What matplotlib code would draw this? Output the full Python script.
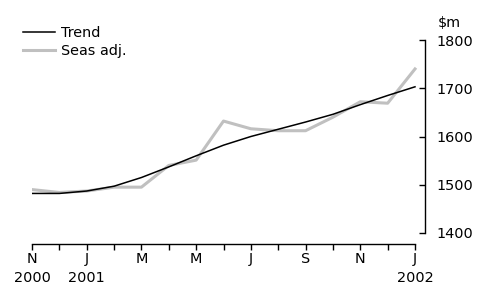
import matplotlib
matplotlib.use("Agg")
import matplotlib.pyplot as plt

plt.rcParams['font.family'] = ['DejaVu Sans']

months = ["N", "D", "J", "F", "M", "A", "M", "J", "J", "A", "S", "O", "N", "D", "J"]
years = {0: "2000", 2: "2001", 14: "2002"}
trend = [1482, 1482, 1487, 1497, 1515, 1537, 1560, 1582, 1600, 1615,
         1630, 1646, 1666, 1685, 1703]
seas_adj = [1490, 1484, 1487, 1495, 1495, 1540, 1551, 1632, 1616, 1612,
            1612, 1640, 1672, 1669, 1740]

W, H = 479, 288
FS = 10.4
fig = plt.figure(figsize=(W / 100, H / 100), dpi=100)
ax = fig.add_axes([32 / W, (H - 233) / H, (425 - 32) / W, (233 - 40) / H])

x = list(range(len(months)))
ax.plot(x, trend, color='black', lw=1.1, label='Trend', zorder=3)
ax.plot(x, seas_adj, color='#c0c0c0', lw=2.2, label='Seas adj.', zorder=2)

ax.set_xlim(0, 14 + 10 / 27.36)
ax.set_ylim(1400, 1800)

for s in ['left', 'top']:
    ax.spines[s].set_visible(False)
ax.spines['right'].set_bounds(1400, 1800)
ax.spines['bottom'].set_bounds(0, 14)
ax.spines['bottom'].set_position(('outward', 8))
ax.spines['right'].set_linewidth(1.0)
ax.spines['bottom'].set_linewidth(1.0)

ax.yaxis.tick_right()
ax.set_yticks([1400, 1500, 1600, 1700, 1800])
ax.tick_params(axis='y', direction='in', length=4, width=1, labelsize=FS, pad=8.5)

labels = []
for i, m in enumerate(months):
    if i % 2 == 0:
        labels.append(m + "\n" + years.get(i, ""))
    else:
        labels.append("")
ax.set_xticks(x)
ax.set_xticklabels(labels, linespacing=1.4)
ax.tick_params(axis='x', direction='out', length=4.3, width=1, labelsize=FS, pad=1.5)

fig.text(438 / W, 1 - 23 / H, "$m", fontsize=FS, ha='left', va='center')

fig.legend(loc='upper left', bbox_to_anchor=(23 / W, 1 - 26 / H), frameon=False,
           fontsize=FS, handlelength=2.2, handletextpad=0.4, labelspacing=0.28,
           borderpad=0, borderaxespad=0)

fig.savefig("out.png", dpi=100)
